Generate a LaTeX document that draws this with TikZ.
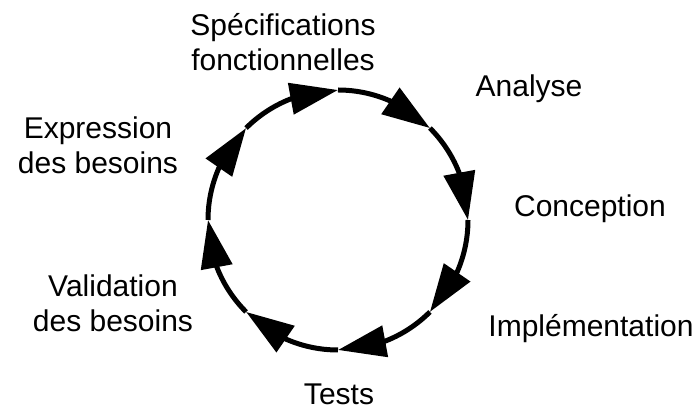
\documentclass[tikz,border=0pt]{standalone}
\usepackage{fontspec}
\setmainfont{Liberation Sans}
\usetikzlibrary{arrows.meta,bending}
\tikzset{
  stage/.style={font=\fontsize{30}{35}\selectfont, align=center, anchor=base, inner sep=0pt},
  phase arrow/.style={line width=5pt, -{Triangle[length=48pt,width=31pt,flex]}}
}
\begin{document}
\begin{tikzpicture}[x=1pt,y=1pt]
  \useasboundingbox (0,0) rectangle (699,412);
  % centre of the cycle and its eight points
  \coordinate (o) at (338,192);
  \coordinate (p90) at ([shift={(90:130)}]o);
  \coordinate (p45) at ([shift={(45:130)}]o);
  \coordinate (p0) at ([shift={(0:130)}]o);
  \coordinate (pm45) at ([shift={(-45:130)}]o);
  \coordinate (pm90) at ([shift={(-90:130)}]o);
  \coordinate (pm135) at ([shift={(-135:130)}]o);
  \coordinate (p180) at ([shift={(180:130)}]o);
  \coordinate (p135) at ([shift={(135:130)}]o);
  % arrows, clockwise
  \draw[phase arrow] (p135) arc[start angle=135, end angle=90, radius=130pt];
  \draw[phase arrow] (p90) arc[start angle=90, end angle=45, radius=130pt];
  \draw[phase arrow] (p45) arc[start angle=45, end angle=0, radius=130pt];
  \draw[phase arrow] (p0) arc[start angle=0, end angle=-45, radius=130pt];
  \draw[phase arrow] (pm45) arc[start angle=-45, end angle=-90, radius=130pt];
  \draw[phase arrow] (pm90) arc[start angle=-90, end angle=-135, radius=130pt];
  \draw[phase arrow] (pm135) arc[start angle=-135, end angle=-180, radius=130pt];
  \draw[phase arrow] (p180) arc[start angle=180, end angle=135, radius=130pt];
  % labels (base = last line)
  \node[stage] (spec) at (283,341) {Spécifications\\fonctionnelles};
  \node[stage] (analyse) at (529,315) {Analyse};
  \node[stage] (concep) at (590,195) {Conception};
  \node[stage] (implem) at (591,75) {Implémentation};
  \node[stage] (tests) at (339,7) {Tests};
  \node[stage] (valid) at (113,80) {Validation\\des besoins};
  \node[stage] (expr) at (98,238) {Expression\\des besoins};
\end{tikzpicture}
\end{document}
